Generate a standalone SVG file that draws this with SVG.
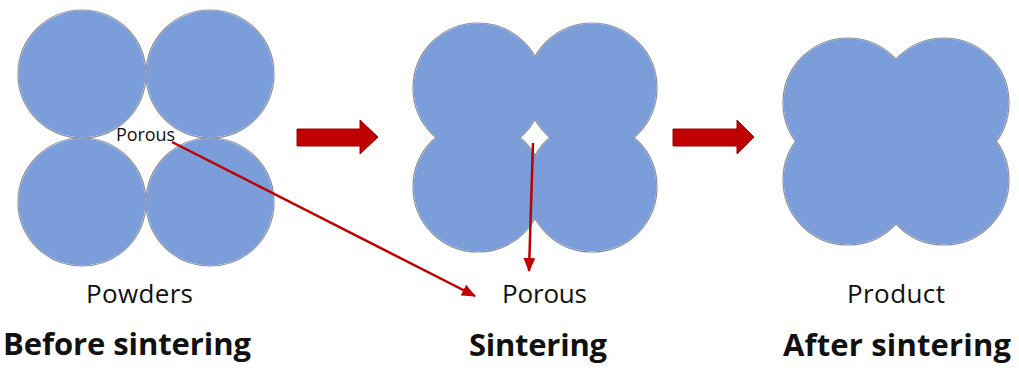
<svg xmlns="http://www.w3.org/2000/svg" width="1019" height="373" viewBox="0 0 1019 373">
  <defs>
    <style>
      .edge { fill: none; stroke: #8a8f9c; stroke-width: 1.2; }
      .fill { fill: #7b9dd9; stroke: none; }
      .lbl { font-family: "Open Sans", "Liberation Sans", sans-serif; fill: #111; }
      .small { font-size: 18px; }
      .sub { font-size: 26px; }
      .title { font-size: 31px; font-weight: bold; }
      .block { fill: #c00000; stroke: #a00000; stroke-width: 1; }
      .ptr { fill: none; stroke: #c00000; stroke-width: 2.5; marker-end: url(#head); }
    </style>
    <marker id="head" viewBox="0 0 14 12" refX="13" refY="6" markerWidth="14" markerHeight="12" markerUnits="userSpaceOnUse" orient="auto">
      <path d="M0,0 L14,6 L0,12 Z" fill="#c00000"/>
    </marker>
  </defs>

  <rect width="1019" height="373" fill="#ffffff"/>

  <!-- Loose powder: four touching particles -->
  <g id="powders">
    <circle class="edge" cx="82" cy="74" r="64"/>
    <circle class="edge" cx="210" cy="74" r="64"/>
    <circle class="edge" cx="82" cy="202" r="64"/>
    <circle class="edge" cx="210" cy="202" r="64"/>
    <circle class="fill" cx="82" cy="74" r="63.4"/>
    <circle class="fill" cx="210" cy="74" r="63.4"/>
    <circle class="fill" cx="82" cy="202" r="63.4"/>
    <circle class="fill" cx="210" cy="202" r="63.4"/>
    <text class="lbl small" x="116" y="141" textLength="59">Porous</text>
    <text class="lbl sub" x="86" y="303" textLength="107">Powders</text>
    <text class="lbl title" x="3" y="355" textLength="248">Before sintering</text>
  </g>

  <!-- Necking particles with a closing pore -->
  <g id="sintering">
    <circle class="edge" cx="478" cy="88" r="65"/>
    <circle class="edge" cx="592" cy="88" r="65"/>
    <circle class="edge" cx="478" cy="187" r="65"/>
    <circle class="edge" cx="592" cy="187" r="65"/>
    <circle class="fill" cx="478" cy="88" r="64.4"/>
    <circle class="fill" cx="592" cy="88" r="64.4"/>
    <circle class="fill" cx="478" cy="187" r="64.4"/>
    <circle class="fill" cx="592" cy="187" r="64.4"/>
    <text class="lbl sub" x="502" y="303" textLength="85">Porous</text>
    <text class="lbl title" x="469" y="356" textLength="138">Sintering</text>
  </g>

  <!-- Dense sintered body -->
  <g id="product">
    <circle class="edge" cx="848" cy="103" r="65"/>
    <circle class="edge" cx="944" cy="103" r="65"/>
    <circle class="edge" cx="848" cy="180" r="65"/>
    <circle class="edge" cx="944" cy="180" r="65"/>
    <circle class="fill" cx="848" cy="103" r="64.4"/>
    <circle class="fill" cx="944" cy="103" r="64.4"/>
    <circle class="fill" cx="848" cy="180" r="64.4"/>
    <circle class="fill" cx="944" cy="180" r="64.4"/>
    <text class="lbl sub" x="847" y="303" textLength="98">Product</text>
    <text class="lbl title" x="783" y="356" textLength="228">After sintering</text>
  </g>

  <!-- Connectors -->
  <g id="connectors">
    <polygon class="block" points="297,129 360,129 360,120 378,137 360,154 360,146 297,146"/>
    <polygon class="block" points="673,129 737,129 737,120 754,137 737,154 737,146 673,146"/>
    <line class="ptr" x1="172" y1="142" x2="475" y2="296"/>
    <line class="ptr" x1="533" y1="143" x2="529" y2="271"/>
  </g>
</svg>
